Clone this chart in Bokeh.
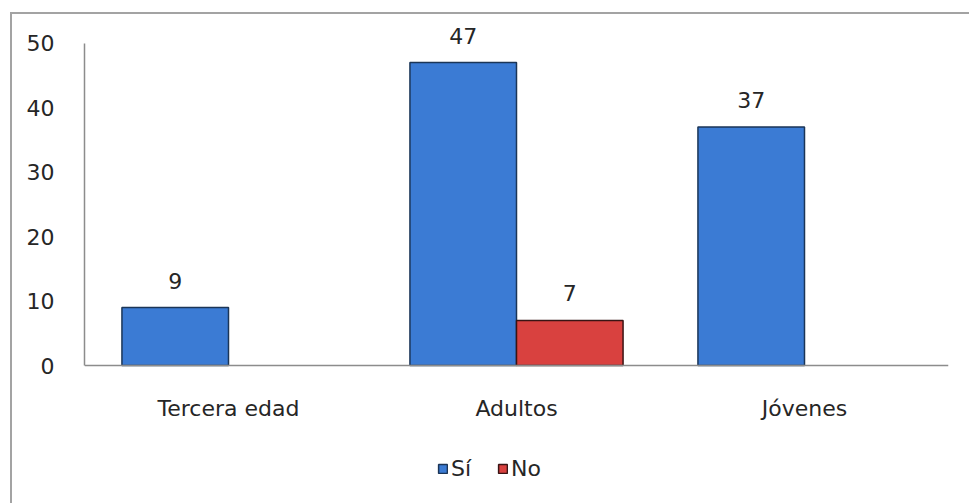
from bokeh.plotting import figure
from bokeh.models import ColumnDataSource, LabelSet, Legend, LegendItem, FactorRange, Span
from bokeh.core.properties import value
from bokeh.transform import dodge
from bokeh.embed import file_html
from bokeh.resources import INLINE

categories = ["Tercera edad", "Adultos", "Jóvenes"]
si_values = [9, 47, 37]
no_values = [None, 7, None]
series_names = ["Sí", "No"]
y_ticks = [0, 10, 20, 30, 40, 50]

FONT = "DejaVu Sans"
FS = "22px"
TXT = "#262626"
AXIS = "#8c8c8c"
BLUE = "#3b7bd4"
BLUE_EDGE = "#1b3557"
RED = "#d9413f"
RED_EDGE = "#3a1414"

p = figure(x_range=FactorRange(*categories, range_padding=0), y_range=(-21.4, 54),
           frame_width=864, frame_height=486, output_backend="svg", toolbar_location=None,
           min_border_left=72, min_border_right=21, min_border_top=3, min_border_bottom=0)
p.margin = (12, 0, 0, 10)
p.styles = {"border-top": "2px solid #a3a3a3", "border-left": "2px solid #a3a3a3"}
p.outline_line_color = None
p.grid.grid_line_color = None

si_src = ColumnDataSource(dict(cat=categories, val=si_values,
                               lbl=[str(v) for v in si_values]))
no_cats = [c for c, v in zip(categories, no_values) if v is not None]
no_vals = [v for v in no_values if v is not None]
no_src = ColumnDataSource(dict(cat=no_cats, val=no_vals, lbl=[str(v) for v in no_vals]))
cat_src = ColumnDataSource(dict(cat=categories, y=[0] * len(categories)))

bw = 0.37
r_si = p.vbar(x=dodge("cat", -0.185, range=p.x_range), top="val", width=bw, source=si_src,
              fill_color=BLUE, line_color=BLUE_EDGE, line_width=1.5)
r_no = p.vbar(x=dodge("cat", 0.185, range=p.x_range), top="val", width=bw, source=no_src,
              fill_color=RED, line_color=RED_EDGE, line_width=1.5)

for src, off in ((si_src, -0.185), (no_src, 0.185)):
    p.add_layout(LabelSet(x=dodge("cat", off, range=p.x_range), y="val", text="lbl", source=src,
                          text_align="center", text_baseline="alphabetic", y_offset=19,
                          text_font=value(FONT), text_font_size=FS, text_color=TXT))

# category axis: baseline line at 0 and category names beneath it
p.add_layout(Span(location=0, dimension="width", line_color=AXIS, line_width=1.5))
p.add_layout(LabelSet(x="cat", y="y", text="cat", source=cat_src, text_align="center",
                      text_baseline="middle", y_offset=-43, text_font=value(FONT),
                      text_font_size=FS, text_color=TXT))
p.xaxis.visible = False

p.yaxis.ticker = y_ticks
p.yaxis.bounds = (0, 50)
p.yaxis.axis_line_color = AXIS
p.yaxis.axis_line_width = 1.5
p.yaxis.major_tick_line_color = None
p.yaxis.minor_tick_line_color = None
p.yaxis.major_label_text_font = FONT
p.yaxis.major_label_text_font_size = FS
p.yaxis.major_label_text_color = TXT
p.yaxis.major_label_standoff = 24

legend = Legend(items=[LegendItem(label=series_names[0], renderers=[r_si]),
                       LegendItem(label=series_names[1], renderers=[r_no])],
                orientation="horizontal", location=(353, 22),
                label_text_font=FONT, label_text_font_size=FS, label_text_color=TXT,
                glyph_width=11, glyph_height=11, label_standoff=3, spacing=26,
                padding=4, margin=0, border_line_color=None, background_fill_alpha=0)
p.add_layout(legend, "center")

open("out.html", "w").write(file_html(p, INLINE))
